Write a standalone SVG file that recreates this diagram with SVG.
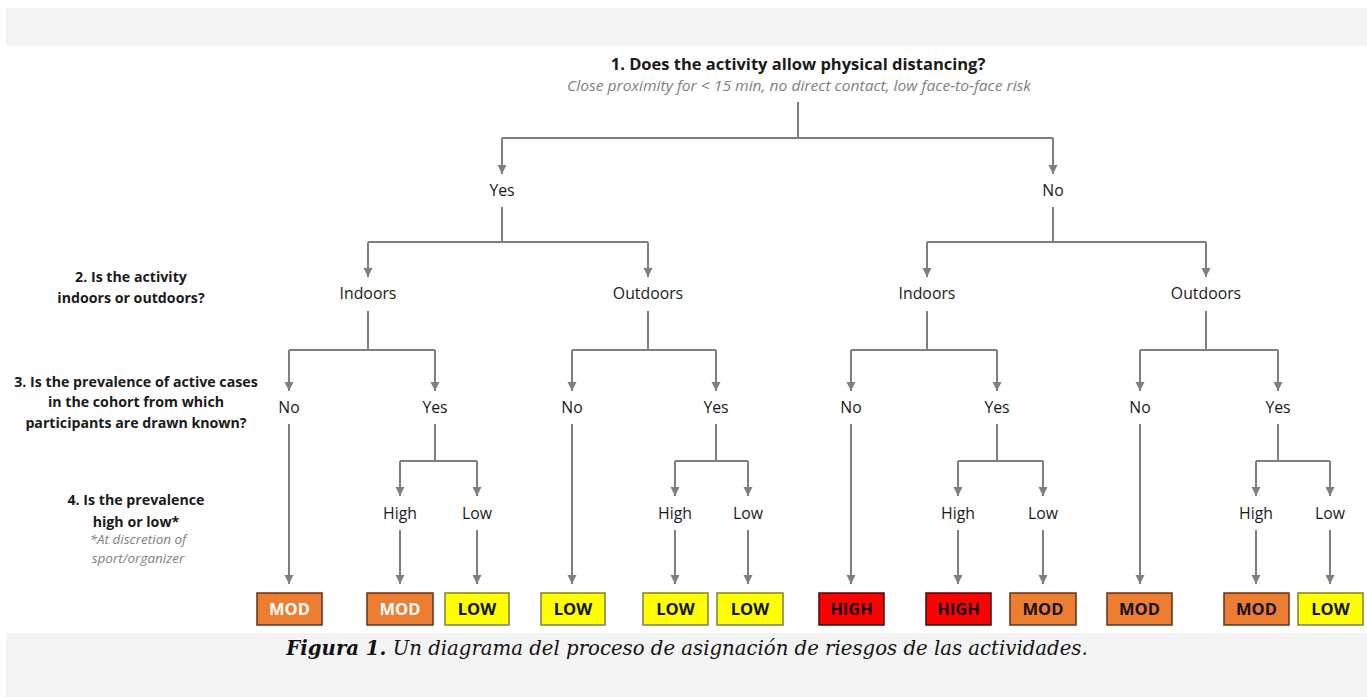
<svg xmlns="http://www.w3.org/2000/svg" width="1367" height="697" viewBox="0 0 1367 697">
<defs>
<style>
.band{fill:#f4f4f4}
.q{font-family:"Open Sans","Liberation Sans",sans-serif;font-weight:bold;font-size:14.2px;fill:#1a1a1a;text-anchor:middle}
.qt{font-family:"Open Sans","Liberation Sans",sans-serif;font-weight:bold;font-size:16.5px;fill:#1a1a1a;text-anchor:middle}
.note{font-family:"Open Sans","Liberation Sans",sans-serif;font-style:italic;font-size:13.5px;fill:#7f7f7f;text-anchor:middle}
.sub{font-size:15px}
.lbl{font-family:"Open Sans","Liberation Sans",sans-serif;font-size:15.8px;fill:#1a1a1a;text-anchor:middle}
.c{fill:none;stroke:#7f7f7f;stroke-width:2}
.a{marker-end:url(#arr)}
.box{stroke-width:1.5}
.mod{fill:#ed7d31;stroke:#5b3520}
.low{fill:#ffff00;stroke:#7f7f40}
.high{fill:#ff0000;stroke:#3a1010}
.bt{font-family:"Open Sans","Liberation Sans",sans-serif;font-weight:bold;font-size:16.5px;text-anchor:middle;fill:#111}
.wt{fill:#fff}
.cap{font-family:"DejaVu Serif","Liberation Serif",serif;font-style:italic;font-size:19.7px;fill:#111;text-anchor:middle}
</style>
<marker id="arr" markerUnits="userSpaceOnUse" markerWidth="10" markerHeight="10" refX="9" refY="4.5" orient="auto">
<path d="M0,0 L9,4.5 L0,9 z" fill="#7f7f7f"/>
</marker>
</defs>
<rect width="1367" height="697" fill="#ffffff"/>
<rect class="band" x="6" y="8" width="1361" height="38"/>
<rect class="band" x="6" y="633" width="1361" height="64"/>

<g id="connectors">
<path class="c" d="M798,102 V138 M502,138 H1053"/>
<path class="c a" d="M502,138 V174"/>
<path class="c a" d="M1053,138 V174"/>
<path class="c" d="M502,207 V242 M368,242 H648"/>
<path class="c a" d="M368,242 V277"/>
<path class="c a" d="M648,242 V277"/>
<path class="c" d="M1053,207 V242 M927,242 H1206"/>
<path class="c a" d="M927,242 V277"/>
<path class="c a" d="M1206,242 V277"/>

<path class="c" d="M368,311 V350 M289,350 H435"/>
<path class="c a" d="M289,350 V391"/>
<path class="c a" d="M435,350 V391"/>
<path class="c" d="M648,311 V350 M572,350 H716"/>
<path class="c a" d="M572,350 V391"/>
<path class="c a" d="M716,350 V391"/>
<path class="c" d="M927,311 V350 M851,350 H997"/>
<path class="c a" d="M851,350 V391"/>
<path class="c a" d="M997,350 V391"/>
<path class="c" d="M1206,311 V350 M1140,350 H1278"/>
<path class="c a" d="M1140,350 V391"/>
<path class="c a" d="M1278,350 V391"/>

<path class="c a" d="M289,424 V584"/>
<path class="c a" d="M572,424 V584"/>
<path class="c a" d="M851,424 V584"/>
<path class="c a" d="M1140,424 V584"/>

<path class="c" d="M435,424 V461 M400,461 H477"/>
<path class="c a" d="M400,461 V496"/>
<path class="c a" d="M477,461 V496"/>
<path class="c" d="M716,424 V461 M675,461 H748"/>
<path class="c a" d="M675,461 V496"/>
<path class="c a" d="M748,461 V496"/>
<path class="c" d="M997,424 V461 M958,461 H1043"/>
<path class="c a" d="M958,461 V496"/>
<path class="c a" d="M1043,461 V496"/>
<path class="c" d="M1278,424 V461 M1256,461 H1330"/>
<path class="c a" d="M1256,461 V496"/>
<path class="c a" d="M1330,461 V496"/>

<path class="c a" d="M400,530 V584"/>
<path class="c a" d="M477,530 V584"/>
<path class="c a" d="M675,530 V584"/>
<path class="c a" d="M748,530 V584"/>
<path class="c a" d="M958,530 V584"/>
<path class="c a" d="M1043,530 V584"/>
<path class="c a" d="M1256,530 V584"/>
<path class="c a" d="M1330,530 V584"/>
</g>

<g id="q1">
<text class="qt" x="798" y="70">1. Does the activity allow physical distancing?</text>
<text class="note sub" x="799" y="91" textLength="464" lengthAdjust="spacingAndGlyphs">Close proximity for &lt; 15 min, no direct contact, low face-to-face risk</text>
</g>
<g id="q2">
<text class="q" x="131" y="282">2. Is the activity</text>
<text class="q" x="131" y="303">indoors or outdoors?</text>
</g>
<g id="q3">
<text class="q" x="136" y="387">3. Is the prevalence of active cases</text>
<text class="q" x="136" y="407">in the cohort from which</text>
<text class="q" x="136" y="428">participants are drawn known?</text>
</g>
<g id="q4">
<text class="q" x="136" y="505">4. Is the prevalence</text>
<text class="q" x="136" y="527">high or low*</text>
<text class="note" x="138" y="544">*At discretion of</text>
<text class="note" x="138" y="563">sport/organizer</text>
</g>

<g id="yes1"><text class="lbl" x="502" y="196">Yes</text></g>
<g id="no1"><text class="lbl" x="1053" y="196">No</text></g>
<g id="indoors-yes"><text class="lbl" x="368" y="299">Indoors</text></g>
<g id="outdoors-yes"><text class="lbl" x="648" y="299">Outdoors</text></g>
<g id="indoors-no"><text class="lbl" x="927" y="299">Indoors</text></g>
<g id="outdoors-no"><text class="lbl" x="1206" y="299">Outdoors</text></g>

<g id="l3-1"><text class="lbl" x="289" y="413">No</text></g>
<g id="l3-2"><text class="lbl" x="435" y="413">Yes</text></g>
<g id="l3-3"><text class="lbl" x="572" y="413">No</text></g>
<g id="l3-4"><text class="lbl" x="716" y="413">Yes</text></g>
<g id="l3-5"><text class="lbl" x="851" y="413">No</text></g>
<g id="l3-6"><text class="lbl" x="997" y="413">Yes</text></g>
<g id="l3-7"><text class="lbl" x="1140" y="413">No</text></g>
<g id="l3-8"><text class="lbl" x="1278" y="413">Yes</text></g>

<g id="l4-1"><text class="lbl" x="400" y="519">High</text></g>
<g id="l4-2"><text class="lbl" x="477" y="519">Low</text></g>
<g id="l4-3"><text class="lbl" x="675" y="519">High</text></g>
<g id="l4-4"><text class="lbl" x="748" y="519">Low</text></g>
<g id="l4-5"><text class="lbl" x="958" y="519">High</text></g>
<g id="l4-6"><text class="lbl" x="1043" y="519">Low</text></g>
<g id="l4-7"><text class="lbl" x="1256" y="519">High</text></g>
<g id="l4-8"><text class="lbl" x="1330" y="519">Low</text></g>

<g id="r1"><rect class="box mod" x="257" y="593" width="65" height="32"/><text class="bt wt" x="289.5" y="615">MOD</text></g>
<g id="r2"><rect class="box mod" x="367" y="593" width="66" height="32"/><text class="bt wt" x="400" y="615">MOD</text></g>
<g id="r3"><rect class="box low" x="445" y="593" width="64" height="32"/><text class="bt" x="477" y="615">LOW</text></g>
<g id="r4"><rect class="box low" x="541" y="593" width="64" height="32"/><text class="bt" x="573" y="615">LOW</text></g>
<g id="r5"><rect class="box low" x="643" y="593" width="65" height="32"/><text class="bt" x="675.5" y="615">LOW</text></g>
<g id="r6"><rect class="box low" x="717" y="593" width="66" height="32"/><text class="bt" x="750" y="615">LOW</text></g>
<g id="r7"><rect class="box high" x="819" y="593" width="65" height="32"/><text class="bt" x="851.5" y="615">HIGH</text></g>
<g id="r8"><rect class="box high" x="926" y="593" width="65" height="32"/><text class="bt" x="958.5" y="615">HIGH</text></g>
<g id="r9"><rect class="box mod" x="1010" y="593" width="66" height="32"/><text class="bt" x="1043" y="615">MOD</text></g>
<g id="r10"><rect class="box mod" x="1107" y="593" width="65" height="32"/><text class="bt" x="1139.5" y="615">MOD</text></g>
<g id="r11"><rect class="box mod" x="1224" y="593" width="65" height="32"/><text class="bt" x="1256.5" y="615">MOD</text></g>
<g id="r12"><rect class="box low" x="1298" y="593" width="65" height="32"/><text class="bt" x="1330.5" y="615">LOW</text></g>

<g id="caption">
<text class="cap" x="687" y="655"><tspan font-weight="bold">Figura 1.</tspan> Un diagrama del proceso de asignación de riesgos de las actividades.</text>
</g>
</svg>
